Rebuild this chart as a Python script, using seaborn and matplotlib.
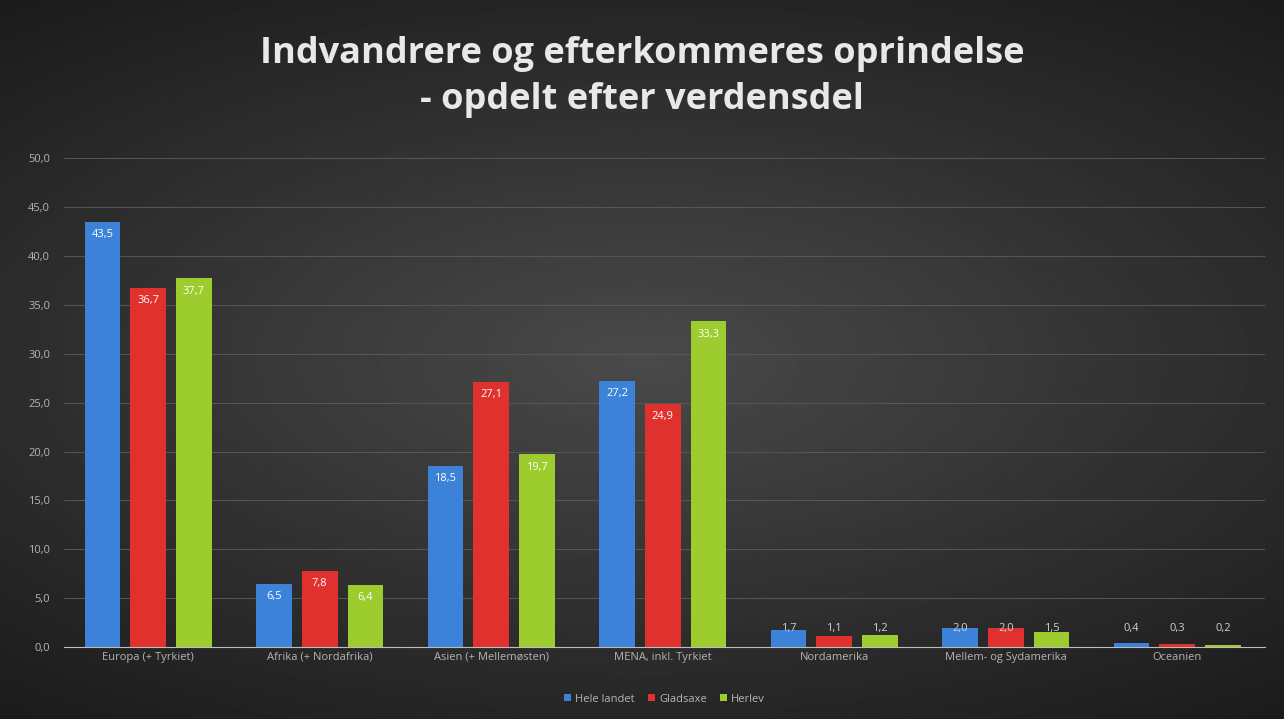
import numpy as np
import pandas as pd
import seaborn as sns
import matplotlib.pyplot as plt

categories = ["Europa (+ Tyrkiet)", "Afrika (+ Nordafrika)", "Asien (+ Mellemøsten)",
              "MENA, inkl. Tyrkiet", "Nordamerika", "Mellem- og Sydamerika", "Oceanien"]
hele_landet = [43.5, 6.5, 18.5, 27.2, 1.7, 2.0, 0.4]
gladsaxe = [36.7, 7.8, 27.1, 24.9, 1.1, 2.0, 0.3]
herlev = [37.7, 6.4, 19.7, 33.3, 1.2, 1.5, 0.2]
series = ["Hele landet", "Gladsaxe", "Herlev"]
colors = ["#3b82d8", "#e0312f", "#9ccc2e"]

rows = []
for name, vals in zip(series, [hele_landet, gladsaxe, herlev]):
    for cat, v in zip(categories, vals):
        rows.append({"Område": name, "Verdensdel": cat, "Andel": v})
df = pd.DataFrame(rows)

sns.set_style("dark")
plt.rcParams["font.family"] = ["Open Sans", "DejaVu Sans"]

fig = plt.figure(figsize=(12.84, 7.19), dpi=100)

# dark radial background
bg = fig.add_axes([0, 0, 1, 1], zorder=0)
yy, xx = np.mgrid[-1:1:300j, -1:1:500j]
r = np.sqrt((xx * 0.9) ** 2 + (yy * 1.1) ** 2)
bg.imshow(0.29 - 0.13 * np.clip(r, 0, 1.4), cmap="gray", vmin=0, vmax=1,
          aspect="auto", extent=[0, 1, 0, 1])
bg.axis("off")

ax = fig.add_axes([0.05, 0.1, 0.935, 0.68], zorder=1)
ax.set_facecolor("none")
sns.barplot(data=df, x="Verdensdel", y="Andel", hue="Område", palette=colors,
            width=0.8, gap=0.22, saturation=1, linewidth=0, ax=ax, legend=True)

for container, vals in zip(ax.containers, [hele_landet, gladsaxe, herlev]):
    for bar, v in zip(container, vals):
        y = v - 1.3 if v > 3 else 1.9
        ax.text(bar.get_x() + bar.get_width() / 2, y, f"{v:.1f}".replace(".", ","),
                ha="center", va="center", color="white" if v > 3 else "#cfcfcf",
                fontsize=8)

ax.set_ylim(0, 50)
ax.set_xlim(-0.49, 6.51)
ax.set_yticks(np.arange(0, 51, 5))
ax.set_yticklabels([f"{t:.1f}".replace(".", ",") for t in np.arange(0, 51, 5)])
ax.tick_params(colors="#b5b5b5", labelsize=8, length=0)
ax.tick_params(axis="y", pad=10)
ax.grid(axis="y", color="#575757", linewidth=0.7)
ax.grid(axis="x", visible=False)
for s in ["top", "right", "left"]:
    ax.spines[s].set_visible(False)
ax.spines["bottom"].set_color("#bdbdbd")
ax.set_xlabel("")
ax.set_ylabel("")

leg = ax.legend(loc="upper center", bbox_to_anchor=(0.5, -0.075), ncol=3, frameon=False,
                fontsize=8, handlelength=0.6, handleheight=0.6, columnspacing=1.2,
                handletextpad=0.4)
for t in leg.get_texts():
    t.set_color("#b5b5b5")

fig.text(0.5, 0.893, "Indvandrere og efterkommeres oprindelse\n- opdelt efter verdensdel",
         ha="center", va="center", color="#e8e8e8", fontsize=26, fontweight="bold",
         linespacing=1.35)

fig.savefig("out.png", dpi=100)
